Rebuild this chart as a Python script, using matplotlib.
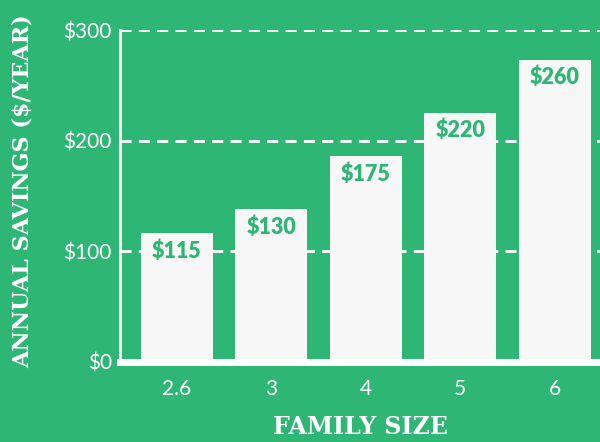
import matplotlib
matplotlib.use("Agg")
import matplotlib.pyplot as plt

BG = "#2DB674"
BAR = "#F7F7F7"
WHITE = "#FFFFFF"

family_sizes = ["2.6", "3", "4", "5", "6"]
bar_heights = [116.5, 138, 186, 225, 273]
bar_labels = ["$115", "$130", "$175", "$220", "$260"]
y_ticks = [0, 100, 200, 300]
y_tick_labels = ["$0", "$100", "$200", "$300"]

fig = plt.figure(figsize=(6, 4.42), dpi=100, facecolor=BG)
ax = fig.add_axes([0.2, 0.181, 0.8, 0.751], facecolor=BG)

x = range(len(family_sizes))
bars = ax.bar(x, bar_heights, width=0.76, color=BAR, zorder=2)

for bar, lab in zip(bars, bar_labels):
    ax.annotate(lab, (bar.get_x() + bar.get_width() / 2, bar.get_height()),
                xytext=(0, -5), textcoords="offset points",
                ha="center", va="top", fontsize=15.5, fontweight="heavy",
                color=BG, family="Lato", zorder=3)

ax.set_xlim(-0.6, 4.48)
ax.set_ylim(0, 300)
ax.set_xticks(list(x))
ax.set_xticklabels(family_sizes)
ax.set_yticks(y_ticks)
ax.set_yticklabels(y_tick_labels)
ax.tick_params(axis="both", length=0, colors=WHITE, labelsize=15)
ax.tick_params(axis="x", pad=12)
ax.tick_params(axis="y", pad=6)
for t in ax.get_xticklabels() + ax.get_yticklabels():
    t.set_family("Lato")

ax.yaxis.grid(True, color=WHITE, linestyle=(0, (4, 2.6)), linewidth=2, zorder=1)
ax.set_axisbelow(True)

for side in ["top", "right"]:
    ax.spines[side].set_visible(False)
ax.spines["left"].set_color(WHITE)
ax.spines["left"].set_linewidth(2)
ax.spines["bottom"].set_color(WHITE)
ax.spines["bottom"].set_linewidth(5)
ax.spines["bottom"].set_zorder(4)

ax.set_xlabel("FAMILY SIZE", fontsize=17, fontweight="bold", color=WHITE,
              family="DejaVu Serif", labelpad=12)
fig.text(0.037, 0.568, "ANNUAL SAVINGS ($/YEAR)", rotation=90, ha="center", va="center",
         fontsize=16, fontweight="bold", color=WHITE, family="DejaVu Serif")

fig.savefig("out.png", dpi=100, facecolor=BG)
